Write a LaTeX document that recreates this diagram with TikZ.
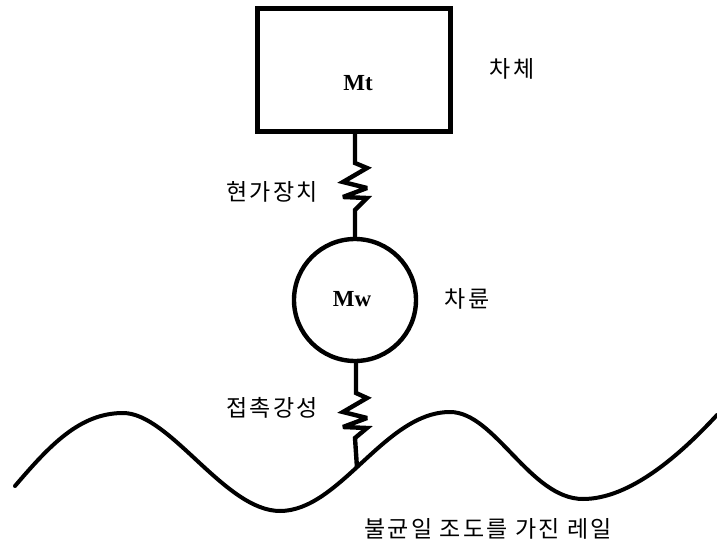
\documentclass[tikz,border=0pt]{standalone}
\usepackage{fontspec}
\setmainfont{Liberation Serif}
\newfontfamily\cjk[LetterSpace=10]{Noto Sans CJK KR}
\tikzset{
  heavy/.style={line width=4.4pt,black},
  wire/.style={line width=4.4pt,black},
  track/.style={line width=4pt,black,line cap=round,line join=round},
  lab/.style={font=\cjk\fontsize{23}{26}\selectfont,inner sep=0pt},
  mass/.style={font=\bfseries\fontsize{23}{26}\selectfont,inner sep=0pt}
}
\begin{document}
\begin{tikzpicture}[x=1pt,y=-1pt]
\useasboundingbox (0,0) rectangle (717,545);
\node[draw,heavy,minimum width=193pt,minimum height=123pt,inner sep=0pt] (body) at (354,70) {};
\node[mass] (mt) at (358,83) {Mt};
\node[draw,heavy,circle,minimum size=122pt,inner sep=0pt] (wheel) at (355,300) {};
\node[mass] (mw) at (352,299) {Mw};
\coordinate (s1t) at (355,163);
\coordinate (s1b) at (355,210);
\draw[wire,line join=miter,miter limit=3] (body.south -| s1t) -- (s1t) -- (367,168) -- (343,182) -- (367,188) -- (343,197) -- (367,198) -- (s1b) -- (wheel.north -| s1b);
\coordinate (s2t) at (356,393);
\coordinate (s2b) at (355,438);
\coordinate (rail) at (357,468);
\draw[wire,line join=miter,miter limit=3] (wheel.south -| s2t) -- (s2t) -- (367,398) -- (343,412) -- (367,418) -- (343,427) -- (367,428) -- (s2b) -- (rail);
\draw[track] (15,486) .. controls (50,445) and (80,413) .. (123,413) .. controls (170,413) and (225,511) .. (280,511) .. controls (340,511) and (385,412) .. (450,412) .. controls (495,412) and (530,499) .. (583,499) .. controls (630,499) and (680,455) .. (717,415);
\node[lab] (a) at (272,192) {현가장치};
\node[lab] (b) at (272,408) {접촉강성};
\node[lab] (c) at (512,69) {차체};
\node[lab] (d) at (467,299) {차륜};
\node[lab] (e) at (488,529) {불균일 조도를 가진 레일};
\end{tikzpicture}
\end{document}
